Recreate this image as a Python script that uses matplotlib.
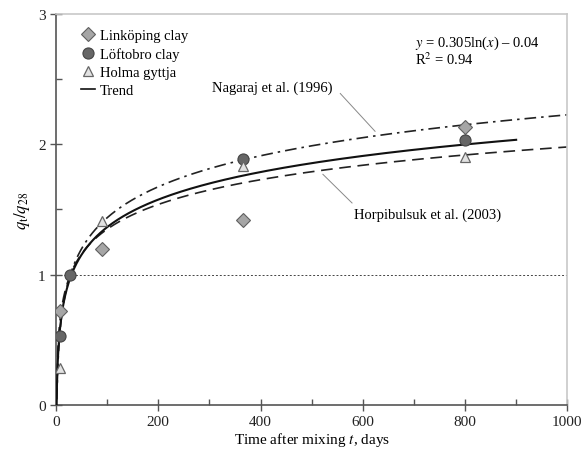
import numpy as np
import matplotlib.pyplot as plt
from matplotlib.ticker import MultipleLocator

plt.rcParams['font.family'] = ['Liberation Serif', 'DejaVu Serif']
plt.rcParams['mathtext.fontset'] = 'stix'

# measured points (days, q_t/q_28)
link_t = [7, 90, 365, 800]
link_q = [0.72, 1.20, 1.42, 2.13]
loft_t = [7, 28, 365, 800]
loft_q = [0.53, 1.00, 1.89, 2.03]
holma_t = [7, 90, 365, 800]
holma_q = [0.28, 1.41, 1.83, 1.90]

# curve parameters
trend_a, trend_b = 0.305, -0.04      # y = a ln(x) + b
nagaraj_k = 0.343                    # y = 1 + k ln(t/28)
horpi_k = 0.274

fig = plt.figure(figsize=(5.81, 4.52), dpi=100)
ax = fig.add_axes([0.0964, 0.1018, 0.880, 0.865])

t = np.linspace(1, 1000, 2000)
ax.plot(t, 1 + nagaraj_k * np.log(t / 28), color='#222222', lw=1.2,
        dashes=(7, 3, 1.5, 3), zorder=2)
ax.plot(t, 1 + horpi_k * np.log(t / 28), color='#222222', lw=1.2,
        dashes=(7, 4), zorder=2)
tt = np.linspace(1, 900, 2000)
ax.plot(tt, trend_a * np.log(tt) + trend_b, color='#111111', lw=1.5, zorder=3)
ax.axhline(1, color='#444444', lw=0.7, ls=(0, (2, 2)), zorder=1)

ax.plot(link_t, link_q, 'D', ms=7.5, mfc='#a6a6a6', mec='#606060', mew=0.8,
        ls='none', label='Linköping clay', zorder=5)
ax.plot(loft_t, loft_q, 'o', ms=8, mfc='#666666', mec='#444444', mew=0.8,
        ls='none', label='Löftobro clay', zorder=5)
ax.plot(holma_t, holma_q, '^', ms=7, mfc='#e2e2e2', mec='#666666', mew=0.9,
        ls='none', label='Holma gyttja', zorder=5)
ax.plot([], [], color='#111111', lw=1.2, label='Trend')

ax.set_xlim(0, 1000)
ax.set_ylim(0, 3)
ax.xaxis.set_major_locator(MultipleLocator(200))
ax.xaxis.set_minor_locator(MultipleLocator(100))
ax.yaxis.set_major_locator(MultipleLocator(1))
ax.yaxis.set_minor_locator(MultipleLocator(0.5))
ax.tick_params(which='major', direction='inout', length=8, width=1,
               color='#555555', labelsize=11, labelcolor='#222222')
ax.tick_params(which='minor', direction='in', length=4, width=1,
               color='#555555')
ax.tick_params(axis='x', pad=3)
for s in ['left', 'bottom']:
    ax.spines[s].set_color('#555555')
    ax.spines[s].set_linewidth(1.2)
for s in ['top', 'right']:
    ax.spines[s].set_color('#c8c8c8')
    ax.spines[s].set_linewidth(1.2)

ax.set_xlabel('Time after mixing $t$, days', fontsize=11, labelpad=2)
ax.set_ylabel('$q_\\mathrm{t}/q_{28}$', fontsize=12, labelpad=4)

ax.legend(loc='upper left', frameon=False, fontsize=10.5, handlelength=1.0,
          handletextpad=0.3, labelspacing=0.35, borderaxespad=0.6,
          bbox_to_anchor=(0.02, 1.0))

ax.text(703, 2.78, '$y$ = 0.305ln($x$) \u2013 0.04', fontsize=10.5,
        va='center')
ax.text(703, 2.655, 'R$^2$ = 0.94', fontsize=10.5, va='center')

ax.text(305, 2.44, 'Nagaraj et al. (1996)', fontsize=10.5, va='center')
ax.plot([556, 624], [2.39, 2.10], color='#888888', lw=0.7)
ax.text(583, 1.465, 'Horpibulsuk et al. (2003)', fontsize=10.5, va='center')
ax.plot([522, 579], [1.77, 1.55], color='#888888', lw=0.7)

fig.savefig('out.png', dpi=100)
